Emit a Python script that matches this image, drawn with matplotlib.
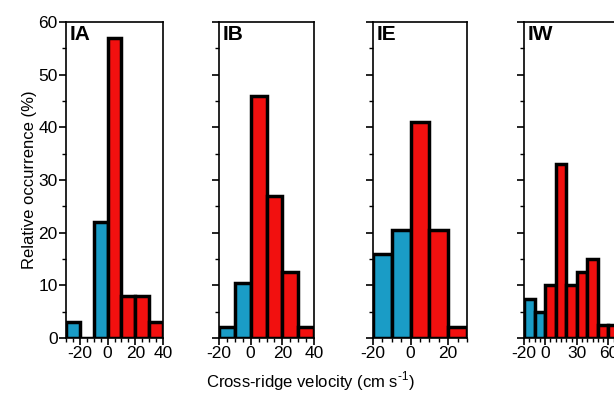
import matplotlib.pyplot as plt
from matplotlib.ticker import MultipleLocator

plt.rcParams['font.family'] = ['Liberation Sans', 'DejaVu Sans']
plt.rcParams['axes.unicode_minus'] = False
plt.rcParams['mathtext.fontset'] = 'custom'
plt.rcParams['mathtext.rm'] = 'Liberation Sans'

# Datos (borde izquierdo de cada intervalo de 10 cm/s y porcentaje)
ia_bordes = [-30, -20, -10, 0, 10, 20, 30]
ia_valores = [3, 0, 22, 57, 8, 8, 3]

ib_bordes = [-20, -10, 0, 10, 20, 30]
ib_valores = [2, 10.5, 46, 27, 12.5, 2]

ie_bordes = [-20, -10, 0, 10, 20]
ie_valores = [16, 20.5, 41, 20.5, 2]

iw_bordes = [-20, -10, 0, 10, 20, 30, 40, 50, 60]
iw_valores = [7.5, 5, 10, 33, 10, 12.5, 15, 2.5, 2.5]

nombres = ['IA', 'IB', 'IE', 'IW']
limites_x = [(-30, 40), (-20, 40), (-20, 30), (-20, 70)]
ticks_x = [[-20, 0, 20, 40], [-20, 0, 20, 40], [-20, 0, 20], [-20, 0, 30, 60]]
azul = '#1a9cc6'
rojo = '#f2100f'

fig = plt.figure(figsize=(6.14, 3.93), dpi=100)
W, H = 614, 393
# posiciones de los paneles en pixeles (izquierda, derecha)
paneles_px = [(66, 163), (219, 314), (373, 467), (524, 619)]
abajo, arriba = 338, 22

datos = [(ia_bordes, ia_valores), (ib_bordes, ib_valores),
         (ie_bordes, ie_valores), (iw_bordes, iw_valores)]

for i, (bordes, valores) in enumerate(datos):
    izq, der = paneles_px[i]
    ax = fig.add_axes([izq / W, (H - abajo) / H, (der - izq) / W, (abajo - arriba) / H])
    colores = [azul if b < 0 else rojo for b in bordes]
    ax.bar(bordes, valores, width=10, align='edge', color=colores,
           edgecolor='black', linewidth=2.5, zorder=3, clip_on=True)
    ax.set_xlim(limites_x[i])
    ax.set_ylim(0, 60)
    ax.set_xticks(ticks_x[i])
    ax.xaxis.set_minor_locator(MultipleLocator(5))
    ax.yaxis.set_major_locator(MultipleLocator(10))
    ax.yaxis.set_minor_locator(MultipleLocator(5))
    ax.tick_params(which='major', direction='out', length=5, width=1.2, labelsize=12.5, pad=1)
    ax.tick_params(which='minor', direction='out', length=3, width=1.0)
    for s in ax.spines.values():
        s.set_linewidth(1.2)
    if i > 0:
        ax.set_yticklabels([])
    else:
        ax.set_ylabel('Relative occurrence (%)', fontsize=12, labelpad=1)
    ax.text(0.04, 0.99, nombres[i], transform=ax.transAxes, ha='left', va='top',
            fontsize=15, fontweight='bold')

fig.text(310 / W, (H - 381) / H, r'Cross-ridge velocity (cm s$^{\text{-1}}$)', ha='center',
         va='center', fontsize=12)

plt.savefig('out.png', dpi=100)
